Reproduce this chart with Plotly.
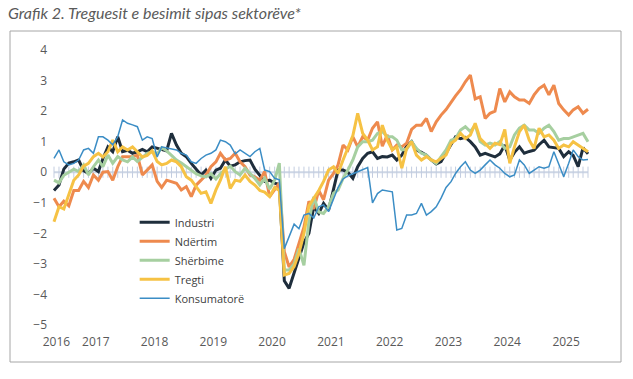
import pandas as pd
import plotly.graph_objects as go

# Monthly observations, May 2016 - June 2025
months = pd.date_range("2016-05-01", "2025-06-01", freq="MS")

industri = [
    -0.60, -0.42, 0.10, 0.30, 0.34, 0.40, 0.05, -0.04,
    0.13, 0.02, 0.45, 0.83, 0.67, 1.16, 0.67, 0.72, 0.62, 0.67, 0.75, 0.67,
    0.83, 0.78, 0.73, 0.70, 1.27, 0.89, 0.62, 0.51, 0.29, 0.10, -0.09, 0.07,
    -0.20, 0.07, 0.13, 0.40, 0.20, 0.24, 0.34, 0.38, 0.40, 0.10, -0.10, -0.30,
    -0.26, -0.36, -0.40, -3.55, -3.80, -3.30, -2.80, -2.30, -2.00, -1.13, -1.35, -1.02,
    -1.24, -0.58, 0.07, 0.07, 0.00, -0.20, 0.18, 0.45, 0.62, 0.67, 0.45, 0.51,
    0.50, 0.56, 0.40, 0.56, 0.85, 1.00, 0.73, 0.65, 0.56, 0.40, 0.27, 0.35,
    0.62, 0.90, 1.16, 1.10, 1.14, 1.00, 0.83, 0.56, 0.62, 0.56, 0.50, 0.60,
    0.89, 0.40, 0.65, 0.83, 0.62, 0.68, 0.72, 0.90, 1.05, 0.83, 0.80, 0.78,
    0.51, 0.67, 0.55, 0.18, 0.80, 0.60,
]
ndertim = [
    -0.85, -1.13, -0.95, -1.10, -0.60, -0.60, -0.30, -0.50,
    -0.09, -0.26, 0.00, 0.02, -0.26, 0.18, 0.51, 0.50, 0.51, 0.56, -0.09, 0.07,
    0.24, -0.30, -0.50, -0.26, -0.30, -0.36, -0.58, -0.47, -0.80, -0.42, -0.26, -0.09,
    0.18, 0.34, 0.62, 0.40, 0.45, 0.62, 0.34, 0.18, -0.09, -0.15, -0.26, 0.02,
    -0.80, -0.58, -0.36, -2.60, -3.10, -2.85, -2.30, -1.80, -0.95, -1.20, -0.60, -0.90,
    -0.26, -0.04, 0.24, 0.89, 0.73, 1.16, 0.83, 1.16, 1.05, 1.44, 1.65, 0.85,
    1.22, 0.73, 0.89, 0.83, 0.95, 1.40, 1.54, 1.54, 1.76, 1.33, 1.65, 1.87,
    2.05, 2.30, 2.50, 2.70, 2.96, 3.18, 2.40, 2.47, 1.76, 1.93, 2.00, 2.74,
    2.30, 2.63, 2.47, 2.36, 2.36, 2.25, 2.53, 2.74, 2.85, 2.53, 2.85, 2.25,
    2.04, 1.87, 2.04, 2.14, 1.93, 2.06,
]
sherbime = [
    -0.26, -0.35, -0.10, 0.00, 0.10, 0.02, 0.24, -0.09,
    0.18, 0.40, 0.18, 0.56, 0.29, 0.51, 0.40, 0.34, 0.50, 0.35, 0.50, 0.62,
    0.67, 0.60, 0.80, 0.70, 0.55, 0.40, 0.30, 0.18, 0.05, -0.05, -0.12, -0.15,
    -0.05, -0.22, -0.05, 0.10, 0.20, 0.02, -0.09, 0.13, -0.04, -0.20, -0.42, -0.20,
    -0.55, -0.26, 0.30, -3.20, -3.20, -3.00, -2.50, -3.05, -1.60, -0.80, -1.30, -1.35,
    -1.13, -0.69, -0.58, -0.20, 0.07, 0.40, 0.83, 1.00, 1.00, 1.05, 1.27, 1.33,
    1.16, 1.16, 1.05, 0.73, 0.75, 1.00, 0.78, 0.62, 0.56, 0.40, 0.29, 0.51,
    0.73, 1.05, 1.10, 1.38, 1.49, 1.33, 1.54, 1.00, 0.89, 0.95, 0.89, 1.00,
    0.78, 0.83, 1.22, 1.44, 1.54, 1.38, 1.38, 1.27, 1.44, 1.54, 1.33, 1.05,
    1.10, 1.10, 1.16, 1.22, 1.27, 1.00,
]
tregti = [
    -1.62, -1.13, -1.20, -0.69, -0.26, -0.09, 0.20, 0.29,
    0.51, 0.62, 0.50, 0.67, 1.05, 0.67, 0.83, 0.73, 0.83, 0.67, 0.50, 0.55,
    0.70, 0.35, 0.24, 0.29, 0.40, 0.34, 0.18, -0.15, -0.26, -0.47, -0.69, -0.64,
    -1.02, -0.58, -0.26, 0.18, -0.53, -0.26, -0.30, -0.09, -0.30, -0.42, -0.60, -0.65,
    -0.80, -0.50, -0.60, -3.36, -3.31, -3.09, -2.65, -2.00, -1.10, -0.85, -0.60, -0.30,
    0.07, 0.18, -0.04, 0.40, 0.78, 1.20, 1.93, 1.27, 1.05, 0.73, 0.83, 1.54,
    1.05, 0.73, 0.83, 0.13, 0.78, 1.00, 0.56, 0.40, 0.51, 0.40, 0.34, 0.45,
    0.56, 0.95, 1.05, 1.27, 1.10, 1.22, 1.60, 1.10, 0.95, 0.78, 0.95, 0.90,
    1.40, 0.29, 0.83, 1.33, 1.54, 1.05, 0.78, 1.44, 1.16, 1.22, 1.05, 0.78,
    0.89, 0.83, 1.00, 0.89, 0.78, 0.67,
]
konsumatore = [
    0.45, 0.73, 0.34, 0.24, 0.29, 0.40, 0.73, 0.78,
    0.62, 1.16, 1.16, 1.05, 0.90, 1.16, 1.71, 1.60, 1.55, 1.49, 1.05, 1.16,
    1.10, 0.50, 0.83, 0.80, 0.78, 0.73, 0.62, 0.56, 0.34, 0.29, 0.45, 0.56,
    0.62, 0.73, 1.05, 1.00, 0.89, 0.60, 0.73, 0.62, 0.51, 0.67, 0.78, 0.07,
    0.02, -0.20, -0.25, -2.50, -2.10, -1.70, -1.85, -1.40, -1.35, -1.50, -1.13, -1.07,
    -1.29, -0.90, -0.50, -0.22, -0.12, -0.05, 0.02, 0.07, 0.15, -1.00, -0.70, -0.58,
    -0.60, -0.64, -1.89, -1.84, -1.40, -1.40, -1.35, -1.02, -1.40, -1.29, -1.13, -0.85,
    -0.50, -0.31, -0.04, 0.18, 0.34, 0.07, -0.04, 0.07, 0.24, 0.40, 0.24, 0.13,
    -0.04, -0.15, -0.09, 0.40, 0.24, -0.04, 0.07, 0.18, 0.13, 0.18, 0.67, 0.24,
    -0.15, 0.29, 0.73, 0.51, 0.40, 0.42,
]

series_names = ["Industri", "Ndërtim", "Shërbime", "Tregti", "Konsumatorë"]
year_ticks = ["2016-05-16", "2017-01-16", "2018-01-16", "2019-01-16", "2020-01-16",
              "2021-01-16", "2022-01-16", "2023-01-16", "2024-01-16", "2025-01-16"]
year_labels = ["2016", "2017", "2018", "2019", "2020", "2021", "2022", "2023", "2024", "2025"]
y_ticks = [-5, -4, -3, -2, -1, 0, 1, 2, 3, 4]

colors = ["#1f2e3c", "#ee8a4e", "#a6cfa0", "#f6c244", "#3b8dc5"]
widths = [3, 3, 3, 3, 1.5]
values = [industri, ndertim, sherbime, tregti, konsumatore]

fig = go.Figure()

# zero axis line with monthly tick marks
fig.add_trace(go.Scatter(
    x=months, y=[0] * len(months), mode="lines+markers",
    line=dict(color="#cdd6e5", width=2),
    marker=dict(symbol="line-ns", size=8, line=dict(color="#c3cde0", width=1)),
    showlegend=False, hoverinfo="skip",
))

for name, vals, col, w in zip(series_names, values, colors, widths):
    fig.add_trace(go.Scatter(
        x=months, y=vals, mode="lines", name=name,
        line=dict(color=col, width=w),
    ))

font_family = "Open Sans, Lato, sans-serif"

fig.update_layout(
    width=633, height=379,
    margin=dict(l=48, r=33, t=50, b=54),
    paper_bgcolor="white", plot_bgcolor="white",
    title=dict(
        text="Grafik 2. Treguesit e besimit sipas sektorëve*",
        x=8 / 633, xref="container", xanchor="left",
        y=1 - 13 / 379, yref="container", yanchor="middle",
        font=dict(family="Lato, sans-serif", size=16, color="#5a5a5a", style="italic"),
    ),
    xaxis=dict(
        type="date",
        range=["2016-03-24 17:17", "2025-08-14 13:30"],
        tickvals=year_ticks, ticktext=year_labels,
        showgrid=False, zeroline=False, showline=False, ticks="",
        tickfont=dict(family=font_family, size=12, color="#595959"),
        ticklabelstandoff=8,
    ),
    yaxis=dict(
        range=[-5, 4], tickvals=y_ticks,
        showgrid=False, zeroline=False, showline=False, ticks="",
        tickfont=dict(family=font_family, size=12, color="#595959"),
    ),
    legend=dict(
        x=0.157, y=0.426, xanchor="left", yanchor="top",
        bgcolor="rgba(0,0,0,0)",
        font=dict(family=font_family, size=11, color="#404040"),
        tracegroupgap=0,
    ),
    shapes=[dict(
        type="rect", xref="paper", yref="paper",
        x0=(10 - 48) / 552, x1=(621 - 48) / 552,
        y0=(325 - 362) / 275, y1=(325 - 31) / 275,
        line=dict(color="#a6a6a6", width=1), fillcolor="rgba(0,0,0,0)",
        layer="below",
    )],
)

fig.write_html(
    "out.html",
    config={"displayModeBar": False},
    post_script="document.body.style.margin='0';document.body.style.overflow='hidden';",
)
